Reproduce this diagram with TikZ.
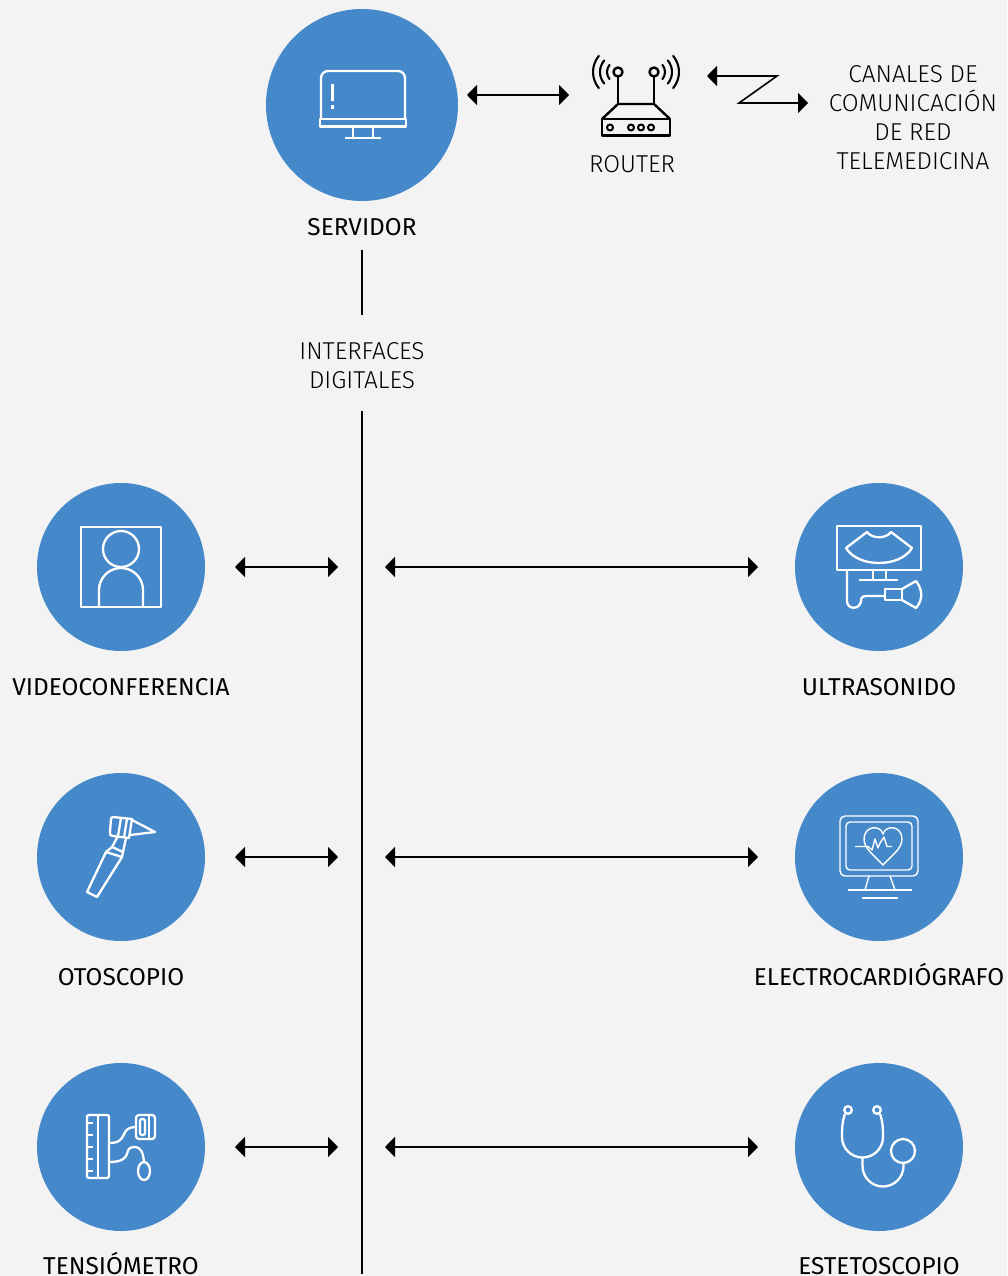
\documentclass[tikz,border=0pt]{standalone}
\usepackage{fontspec}
\setmainfont{Fira Sans}
\newfontfamily\lightfont{Fira Sans Light}
\usetikzlibrary{arrows.meta}
\definecolor{bgc}{HTML}{F3F3F3}
\definecolor{disc}{HTML}{4589CB}
\tikzset{
 disc/.style={circle,fill=disc,draw=none,inner sep=0pt},
 big/.style={disc,minimum size=192pt},
 small/.style={disc,minimum size=168pt},
 lab/.style={anchor=base,font=\fontsize{24.4}{29}\selectfont,text=black,inner sep=0pt,align=center},
 thin lab/.style={anchor=base,font=\lightfont\fontsize{24.4}{29}\selectfont,text=black,inner sep=0pt,align=center},
 link/.style={line width=1.8pt,black,{Triangle[length=10pt,width=20pt]}-{Triangle[length=10pt,width=20pt]}},
 bar/.style={line width=2pt,black},
 ic/.style={draw=white,line width=2.3pt,line join=round},
 icf/.style={draw=white,line width=1.4pt,line join=round},
 rt/.style={draw=black,line width=2.4pt,line join=round},
}
\begin{document}
\begin{tikzpicture}[x=1pt,y=-1pt]
\path[use as bounding box,fill=bgc] (0,0) rectangle (1007,1276);
% discs
\node[big] (srv) at (362,105) {};
\node[small] (vid) at (121,567) {};
\node[small] (ult) at (879,567) {};
\node[small] (oto) at (121,857) {};
\node[small] (ecg) at (879,857) {};
\node[small] (ten) at (121,1147) {};
\node[small] (est) at (879,1147) {};
% labels
\node[lab] (lsrv) at (362,235.5) {SERVIDOR};
\node[lab] (lvid) at (121,695.5) {VIDEOCONFERENCIA};
\node[lab] (lult) at (879,695.5) {ULTRASONIDO};
\node[lab] (loto) at (121,985.5) {OTOSCOPIO};
\node[lab] (lecg) at (879,985.5) {ELECTROCARDIÓGRAFO};
\node[lab] (lten) at (121,1274) {TENSIÓMETRO};
\node[lab] (lest) at (879,1274) {ESTETOSCOPIO};
\node[thin lab] (lrou) at (632,172.5) {ROUTER};
\node[thin lab] (lc1) at (913,83) {CANALES DE};
\node[thin lab] (lc2) at (913,112) {COMUNICACIÓN};
\node[thin lab] (lc3) at (913,141) {DE RED};
\node[thin lab] (lc4) at (913,170) {TELEMEDICINA};
\node[thin lab] (li1) at (362,359.5) {INTERFACES};
\node[thin lab] (li2) at (362,388.5) {DIGITALES};
% backbone
\coordinate (t1) at (362,250); \coordinate (t2) at (362,315);
\coordinate (b1) at (362,411); \coordinate (b2) at (362,1274);
\draw[bar] (t1) -- (t2);
\draw[bar] (b1) -- (b2);
% links
\coordinate (sa) at (467,95); \coordinate (sb) at (569,95);
\draw[link] (sa) -- (sb);
\foreach \n/\y in {a/567,b/857,c/1147}{
 \coordinate (l1\n) at (235,\y); \coordinate (l2\n) at (338,\y);
 \coordinate (r1\n) at (385,\y); \coordinate (r2\n) at (758,\y);
 \draw[link] (l1\n) -- (l2\n);
 \draw[link] (r1\n) -- (r2\n);
}
% zigzag
\coordinate (z1) at (707,76); \coordinate (z2) at (777,76);
\coordinate (z3) at (739,103); \coordinate (z4) at (808,103);
\draw[link,line width=1.6pt,miter limit=10] (z1) -- (z2) -- (z3) -- (z4);
% router
\draw[rt] (618,72) circle (4.5);
\draw[rt] (654,72) circle (4.5);
\draw[rt] (618,76.5) -- (618,104);
\draw[rt] (654,76.5) -- (654,104);
\draw[rt] (602,119) -- (618,104) -- (654,104) -- (670,119);
\draw[rt] (602,119) rectangle (670,135.5);
\foreach \x in {610,631,641,651} \draw[rt,line width=2pt] (\x,127.5) circle (3);
\foreach \r in {11,18,25}{
 \draw[rt,line cap=round,line width=2.1pt] (618,72) ++(140:\r) arc[start angle=140,end angle=220,radius=\r];
 \draw[rt,line cap=round,line width=2.1pt] (654,72) ++(-40:\r) arc[start angle=-40,end angle=40,radius=\r];
}
% server icon
\draw[ic] (321,119) -- (321,78) arc[start angle=180,end angle=270,radius=7] -- (398,71) arc[start angle=270,end angle=360,radius=7] -- (405,119);
\draw[ic] (320,119) rectangle (406,126.5);
\draw[ic] (353,127) -- (353,138) (373,127) -- (373,138);
\draw[ic] (345,138) -- (381,138);
\draw[white,line width=3pt] (332,84) -- (332,101) (332,105) -- (332,109);
% video icon
\draw[ic] (81,527) rectangle (161,607);
\draw[ic] (121,549) circle (18);
\draw[ic] (99,607) -- (99,590) arc[start angle=180,end angle=360,radius=22] -- (143,607);
% ultrasound icon
\draw[ic] (837,526) rectangle (921,570);
\draw[ic] (846,548) -- (867,532) .. controls (872,539) and (886,539) .. (891,532) -- (912,548) .. controls (900,568) and (858,568) .. (846,548) -- cycle;
\draw[ic] (873,570) -- (873,580) (886,570) -- (886,580);
\draw[ic] (859,580) -- (898,580);
\draw[ic] (847,570) -- (847,601) .. controls (847,610) and (860,610) .. (861,601) .. controls (861,597) and (863,596) .. (867,596) -- (885,596);
\draw[ic] (885,589) rectangle (902,600);
\draw[ic] (902,589) -- (916,581) .. controls (923,590) and (923,600) .. (916,608) -- (902,600);
% otoscope icon
\draw[ic] (106,852) -- (122,857) -- (97,897) -- (87,892) -- cycle;
\draw[ic] (106,852) -- (112,847) -- (123,852) -- (122,857);
\draw[ic] (112,847) -- (118,836) (123,852) -- (126,838);
\draw[ic] (113,817) -- (132,819) -- (129,838) -- (113,836) .. controls (110,836) and (110,835) .. (110,832) -- (111,819) .. controls (111,818) and (112,817) .. (113,817) -- cycle;
\draw[ic] (121,818) -- (118,836) (127,819) -- (124,837);
\draw[ic] (132,820) -- (155,832) -- (130,835);
% ecg icon
\draw[icf,rounded corners=5pt] (840,816) rectangle (918,876);
\draw[icf,rounded corners=4pt] (846,822) rectangle (912,870);
\draw[icf] (883,865) .. controls (875,856) and (864,849) .. (864,839) .. controls (864,826) and (880,824) .. (883,834) .. controls (886,824) and (902,826) .. (902,839) .. controls (902,849) and (891,856) .. (883,865) -- cycle;
\draw[icf] (855,846.5) -- (868,846.5) -- (872,850) -- (875,839) -- (878,848) -- (880,843) -- (884,837) -- (887,846.5) -- (892,846.5);
\draw[icf] (869,876) -- (865,890) (890,876) -- (895,890);
\draw[icf] (848,890) -- (912,890) (862,898) -- (898,898);
% tensiometer icon
\draw[ic,rounded corners=2pt] (87,1115) rectangle (109,1178);
\draw[ic] (98,1115) -- (98,1178);
\foreach \y in {1123,1135,1147,1159,1171} \draw[ic] (87,\y) -- (93,\y);
\draw[ic,rounded corners=3pt] (136,1115) rectangle (155,1139);
\draw[ic,rounded corners=2pt] (140,1119) rectangle (145,1135);
\draw[ic] (149,1115) -- (149,1139);
\draw[ic] (109,1143) .. controls (130,1143) and (118,1127) .. (136,1127);
\draw[ic] (109,1162) .. controls (135,1162) and (122,1147) .. (134,1147) .. controls (141,1147) and (143,1152) .. (144,1162);
\draw[ic] (144,1171) ellipse (6 and 9);
% stethoscope icon
\draw[ic] (848,1110) circle (3.8);
\draw[ic] (877,1110) circle (3.8);
\draw[ic] (845,1114) .. controls (842,1122) and (842,1130) .. (842,1137) arc[start angle=180,end angle=0,radius=20.5] .. controls (883,1130) and (883,1122) .. (880,1114);
\draw[ic] (862.5,1158) -- (862.5,1166) arc[start angle=180,end angle=0,radius=20.5] -- (903.5,1163);
\draw[ic] (903,1151) circle (12);
\end{tikzpicture}
\end{document}
